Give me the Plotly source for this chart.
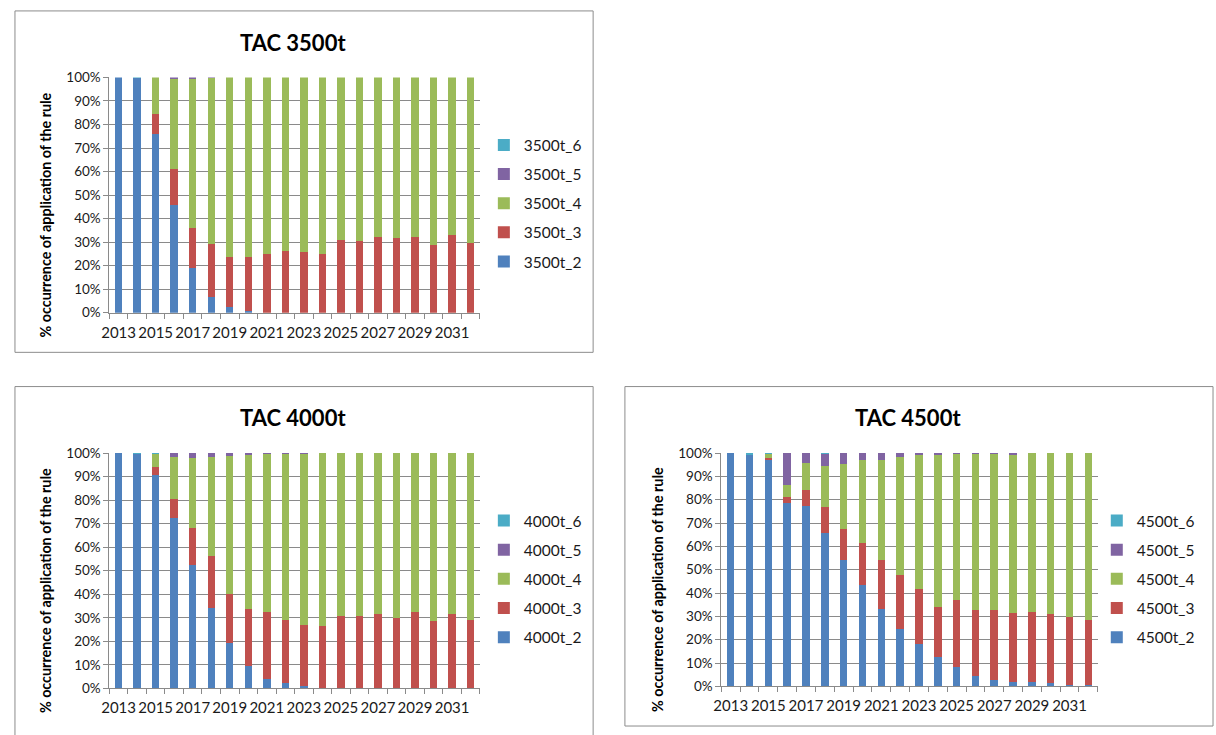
import plotly.graph_objects as go

# Years on the horizontal axis
years = [2013, 2014, 2015, 2016, 2017, 2018, 2019, 2020, 2021, 2022,
         2023, 2024, 2025, 2026, 2027, 2028, 2029, 2030, 2031, 2032]
year_labels = [2013, 2015, 2017, 2019, 2021, 2023, 2025, 2027, 2029, 2031]

# TAC 3500t: share (%) of runs applying each rule
tac3500_2 = [100, 99.6, 75.8, 45.6, 18.9, 6.7, 2.4, 0.6, 0, 0, 0, 0, 0, 0, 0, 0, 0, 0, 0, 0]
tac3500_3 = [0, 0, 8.5, 15.7, 17.1, 22.5, 21.1, 22.9, 24.9, 26.4, 26.0, 24.9, 30.8, 30.4, 32.2, 31.8, 32.2, 28.9, 32.9, 29.7]
tac3500_4 = [0, 0, 15.7, 38.2, 63.5, 70.5, 76.5, 76.5, 75.1, 73.6, 74.0, 75.1, 69.2, 69.6, 67.8, 68.2, 67.8, 71.1, 67.1, 70.3]
tac3500_5 = [0, 0, 0, 0.5, 0.5, 0.3, 0, 0, 0, 0, 0, 0, 0, 0, 0, 0, 0, 0, 0, 0]
tac3500_6 = [0, 0.4, 0, 0, 0, 0, 0, 0, 0, 0, 0, 0, 0, 0, 0, 0, 0, 0, 0, 0]

# TAC 4000t
tac4000_2 = [100, 99.6, 90.7, 72.3, 52.3, 34.0, 19.2, 9.4, 4.1, 2.2, 1.0, 0, 0, 0, 0, 0, 0, 0, 0, 0]
tac4000_3 = [0, 0, 3.6, 8.3, 15.9, 22.4, 20.8, 24.5, 28.3, 26.8, 26.1, 26.4, 30.7, 30.7, 31.5, 29.9, 32.4, 28.6, 31.5, 29.0]
tac4000_4 = [0, 0, 5.4, 17.6, 29.6, 41.8, 58.6, 65.4, 67.2, 70.6, 72.7, 73.6, 69.3, 69.3, 68.5, 70.1, 67.6, 71.4, 68.5, 71.0]
tac4000_5 = [0, 0, 0, 1.8, 2.2, 1.8, 1.4, 0.7, 0.4, 0.4, 0.2, 0, 0, 0, 0, 0, 0, 0, 0, 0]
tac4000_6 = [0, 0.4, 0.3, 0, 0, 0, 0, 0, 0, 0, 0, 0, 0, 0, 0, 0, 0, 0, 0, 0]

# TAC 4500t
tac4500_2 = [100, 99.4, 97.2, 78.8, 77.2, 65.8, 54.1, 43.6, 33.1, 24.6, 18.3, 12.6, 8.2, 4.5, 2.8, 2.1, 1.7, 1.3, 0.8, 0.4]
tac4500_3 = [0, 0, 0.6, 2.2, 6.9, 11.3, 13.2, 17.7, 21.1, 23.0, 23.5, 21.6, 28.7, 28.2, 29.9, 29.2, 30.0, 29.7, 28.9, 28.2]
tac4500_4 = [0, 0, 1.9, 5.5, 11.6, 17.5, 28.1, 35.6, 42.7, 50.6, 57.2, 64.8, 62.8, 67.2, 67.2, 68.1, 68.3, 69.0, 70.3, 71.4]
tac4500_5 = [0, 0, 0, 13.5, 4.3, 5.0, 4.6, 3.1, 3.1, 1.8, 1.0, 1.0, 0.3, 0.1, 0.1, 0.6, 0, 0, 0, 0]
tac4500_6 = [0, 0.6, 0.3, 0, 0, 0.4, 0, 0, 0, 0, 0, 0, 0, 0, 0, 0, 0, 0, 0, 0]

rules = ["2", "3", "4", "5", "6"]
rule_colors = {"2": "#4F81BD", "3": "#C0504D", "4": "#9BBB59", "5": "#8064A2", "6": "#4BACC6"}

W, H = 1216, 735
FONT = "Lato"
GRID = "#8a8a8a"


def px(x):
    return x / W


def py(y):
    return 1 - y / H


fig = go.Figure()

panels = [
    # name, series, axis suffix, legend id, plot box (left, top, right, bottom), panel frame, legend (x, y)
    ("3500t", [tac3500_2, tac3500_3, tac3500_4, tac3500_5, tac3500_6], "", "legend",
     (102, 71, 475, 311.5), (7, 3, 589, 352), (479, 123)),
    ("4000t", [tac4000_2, tac4000_3, tac4000_4, tac4000_5, tac4000_6], "2", "legend2",
     (102, 455, 475, 695.5), (7, 387, 589, 745), (479, 507)),
    ("4500t", [tac4500_2, tac4500_3, tac4500_4, tac4500_5, tac4500_6], "3", "legend3",
     (718, 455, 1097, 693.5), (621, 387, 1213, 734), (1096, 507)),
]

layout_axes = {}
shapes = []
annotations = []
legends = {}

for name, series, suffix, legend_id, box, frame, leg in panels:
    xref = "x" + suffix
    yref = "y" + suffix
    # rule 2 at the bottom of each stack; legend lists the highest rule first
    for rule, vals in zip(rules, series):
        fig.add_trace(go.Bar(
            x=years, y=vals, name=f"{name}_{rule}",
            marker=dict(color=rule_colors[rule], line=dict(width=0)),
            xaxis=xref, yaxis=yref, legend=legend_id,
            legendgroup=f"{name}_{rule}", legendrank=10 - int(rule),
        ))
    left, top, right, bottom = box
    layout_axes["xaxis" + suffix] = dict(
        domain=[px(left), px(right)], anchor=yref,
        range=[years[0] - 0.5, years[-1] + 0.5],
        tickmode="array", tickvals=year_labels, ticktext=[str(v) for v in year_labels],
        ticks="", tickangle=0, ticklabelstandoff=6, showgrid=False, zeroline=False,
        showline=True, linecolor=GRID, linewidth=1,
        tickfont=dict(family=FONT, size=15, color="#1a1a1a"),
        minor=dict(tickmode="array", tickvals=[y - 0.5 for y in years] + [years[-1] + 0.5],
                   ticks="outside", ticklen=5, tickcolor=GRID, tickwidth=1, showgrid=False),
        fixedrange=True,
    )
    layout_axes["yaxis" + suffix] = dict(
        domain=[py(bottom), py(top)], anchor=xref,
        range=[0, 100], tickmode="linear", tick0=0, dtick=10, ticksuffix="%",
        showgrid=True, gridcolor=GRID, gridwidth=1, zeroline=False,
        showline=True, linecolor=GRID, linewidth=1,
        ticks="outside", ticklen=5, tickcolor=GRID,
        tickfont=dict(family=FONT, size=13.5, color="#1a1a1a"),
        fixedrange=True,
    )
    fl, ft, fr, fb = frame
    shapes.append(dict(type="rect", xref="paper", yref="paper",
                       x0=px(fl), x1=px(fr), y0=py(fb), y1=py(ft),
                       line=dict(color="#8c8c8c", width=1), fillcolor="rgba(0,0,0,0)", layer="below"))
    annotations.append(dict(text=f"<b>TAC {name}</b>", xref="paper", yref="paper",
                            x=px((left + right) / 2 - 2), y=py(ft + 32), showarrow=False,
                            xanchor="center", yanchor="middle",
                            font=dict(family=FONT, size=22, color="#000000")))
    annotations.append(dict(text="<b>% occurrence of application of the rule</b>", xref="paper", yref="paper",
                            x=px(left - 64), y=py((top + bottom) / 2 + 20), showarrow=False,
                            textangle=-90, xanchor="center", yanchor="middle",
                            font=dict(family=FONT, size=14.3, color="#000000")))
    legends[legend_id] = dict(
        x=px(leg[0]), y=py(leg[1]), xanchor="left", yanchor="top",
        traceorder="grouped", tracegroupgap=6, itemwidth=30,
        font=dict(family=FONT, size=15.5, color="#1a1a1a"),
        bgcolor="rgba(0,0,0,0)", borderwidth=0,
    )

fig.update_layout(
    width=W, height=H, margin=dict(l=0, r=0, t=0, b=0),
    paper_bgcolor="white", plot_bgcolor="white",
    barmode="stack", bargap=0.6,
    shapes=shapes, annotations=annotations,
    showlegend=True,
    **layout_axes, **legends,
)

fig.write_html("out.html")
